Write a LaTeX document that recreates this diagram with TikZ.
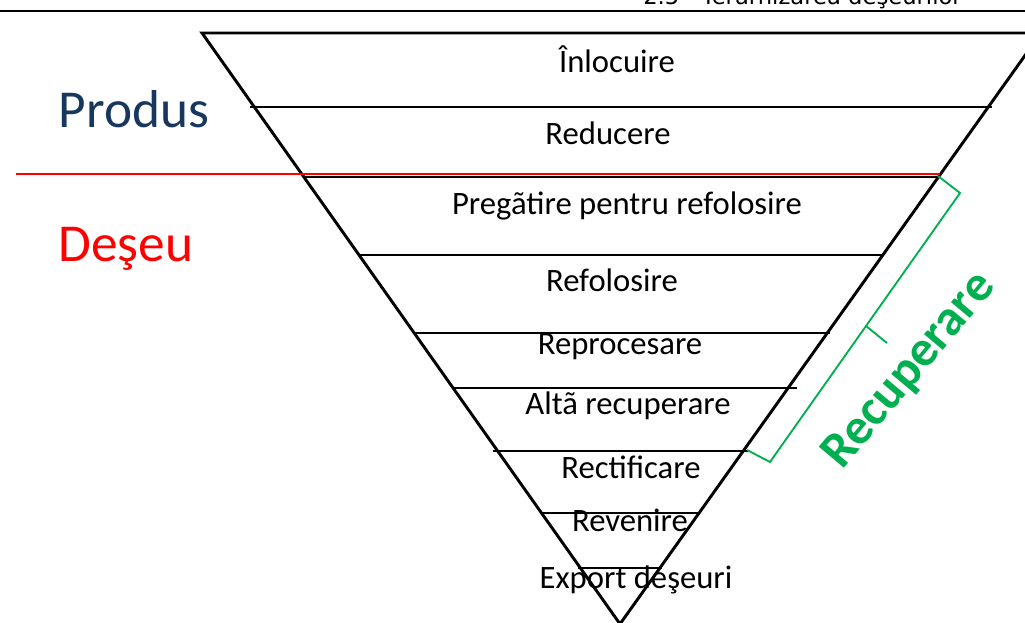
\documentclass[tikz,border=0pt]{standalone}
\usepackage{fontspec}
\setmainfont{Carlito}
\newfontfamily\headfont{DejaVu Sans}
\begin{document}
\begin{tikzpicture}[x=0.75pt,y=-0.75pt,
  edge/.style={line width=2.2pt,black},
  rung/.style={line width=2.2pt,black},
  lvl/.style={anchor=base,inner sep=0pt,font=\fontsize{24.5}{28}\selectfont},
  side/.style={anchor=base,inner sep=0pt,font=\fontsize{40}{46}\selectfont},
  bracket/.style={line width=1.4pt,draw=recgreen,line join=miter}]
\definecolor{prodblue}{RGB}{23,55,94}
\definecolor{recgreen}{RGB}{0,176,80}
\useasboundingbox (0,0) rectangle (1025,623);
\clip (0,0) rectangle (1025,623);

% running header of the page
\node[anchor=base east,inner sep=0pt,font=\headfont\fontsize{17}{20}\selectfont] (head) at (962,5) {2.5 – Ierarhizarea deşeurilor};
\coordinate (hl) at (0,11);
\coordinate (hr) at (1025,11);
\draw[line width=1.6pt] (hl) -- (hr);

% inverted triangle
\coordinate (tl) at (202,33);
\coordinate (tr) at (1041,33);
\coordinate (apex) at (620,624);
\draw[edge,line join=miter] (tr) -- (tl) -- (apex) -- cycle;

% separators between the levels
\foreach \y/\a/\b in {107/250/992, 177/303/937, 255/359/882, 333/415/830,
                      388/453/797, 451/493/748, 513/541/700, 568/578/662}{
  \coordinate (l\y) at (\a,\y);
  \coordinate (r\y) at (\b,\y);
  \draw[rung] (l\y) -- (r\y);
}

% product / waste border
\coordinate (redl) at (16,174);
\coordinate (redr) at (940,174);
\draw[red,line width=1.6pt] (redl) -- (redr);

% level labels
\node[lvl] (inloc) at (617,73)  {Înlocuire};
\node[lvl] (reduc) at (608,145) {Reducere};
\node[lvl] (preg)  at (627,215) {Pregãtire pentru refolosire};
\node[lvl] (refol) at (612,292) {Refolosire};
\node[lvl] (repro) at (620,355) {Reprocesare};
\node[lvl] (alta)  at (628,415) {Altã recuperare};
\node[lvl] (rect)  at (631,479) {Rectificare};
\node[lvl] (reven) at (630,532) {Revenire};
\node[lvl] (expo)  at (636,588) {Export deşeuri};

% side labels
\node[side,text=prodblue] (produs) at (134,128) {Produs};
\node[side,text=red] (deseu) at (126,262) {Deşeu};

% recovery bracket
\coordinate (ba) at (938,176);
\coordinate (bb) at (960,193);
\coordinate (bj) at (866,326);
\coordinate (bt) at (887,343);
\coordinate (bd) at (770,462);
\coordinate (be) at (747,450);
\draw[bracket] (ba) -- (bb) -- (bj) -- (bd) -- (be);
\draw[bracket] (bj) -- (bt);
\node[rotate=50,inner sep=0pt,text=recgreen,font=\bfseries\fontsize{38}{42}\selectfont] (recup) at (910,371) {Recuperare};
\end{tikzpicture}
\end{document}
